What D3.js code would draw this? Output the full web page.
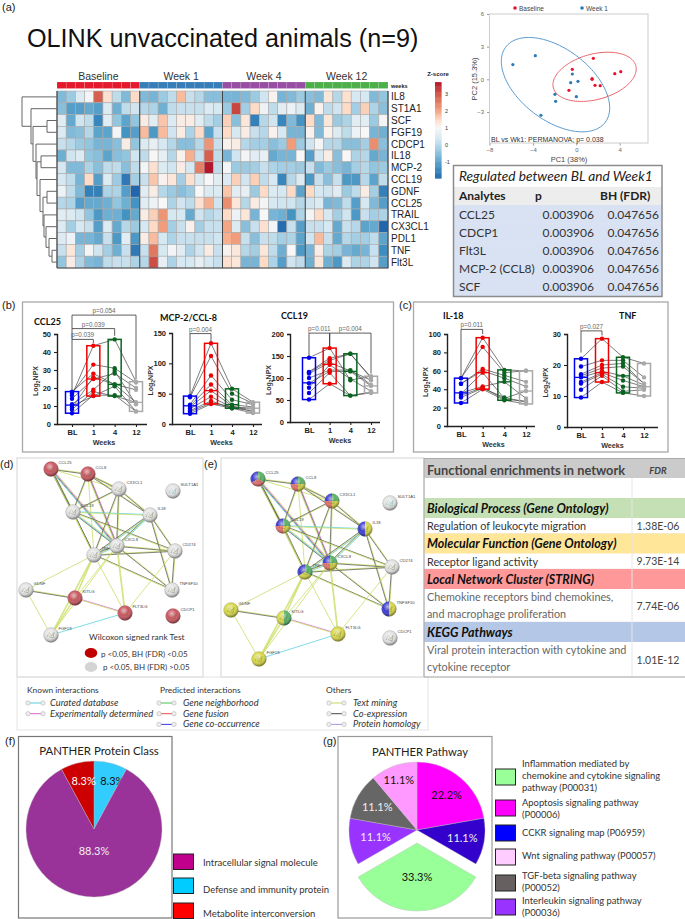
<!DOCTYPE html>
<html>
<head>
<meta charset="utf-8">
<script src="https://cdn.jsdelivr.net/npm/d3@7/dist/d3.min.js"></script>
<style>
  body { margin: 0; background: #fff; }
  text { font-family: "Liberation Sans", Arial, sans-serif; }
  .cal { font-family: Lato, "Open Sans", sans-serif; }
</style>
</head>
<body>
<div id="chart"></div>
<script>
// ---- (a) heatmap values, z-score per analyte and animal
const analytes = ["IL8", "ST1A1", "SCF", "FGF19", "CDCP1", "IL18", "MCP-2", "CCL19", "GDNF", "CCL25", "TRAIL", "CX3CL1", "PDL1", "TNF", "Flt3L"];
const heatGroups = ["Baseline", "Week 1", "Week 4", "Week 12"];
const heatValues = [
  [-.6,-.3,.5,.9,2.9,1.4,.1,-.6,1.5, -.6,-.7,-.3,.1,1.8,.2,0,-.5,-.5, -.7,-.7,-.6,-.3,.3,1.1,-.7,-.6,-.3, -.5,-.6,1.3,0,1.4,.4,.4,-.6,-.4],
  [-.5,-1.1,-1.1,-.9,-1.1,.5,-.8,.1,.3, 0,-.1,-.8,.1,.2,.2,.2,.5,.4, -.3,3.2,-.2,1.5,.8,.1,.6,.8,.5, -.8,1.1,.1,.3,1.5,-.2,1.6,-.1,-.5],
  [.6,-.9,.3,.1,-1.5,.6,-.4,-1,-.4, 1.2,.6,1.7,.5,1.2,1.2,.6,.1,-.2, 1.6,-.5,1.3,-1.6,0,.3,-1.5,-.6,-1.3, 1.5,-.6,1.3,-.3,-.1,.6,.6,-.3,.9],
  [.5,-.6,-.5,0,-1,-1,.9,-1.3,-1.1, 1.8,-1.2,1.8,.3,1.2,-.1,1.5,-1,.2, 1.5,.4,1.2,.2,0,1.1,.4,-.7,-.7, 1.1,-.6,1.1,.5,.1,.8,1,-.7,-.8],
  [.2,0,-.3,-.4,-.7,-.7,-.5,1.2,-.4, .5,.7,.4,0,-.5,-.5,0,2.2,.2, 1.1,1.2,0,-.2,-.2,-.5,-.3,2.1,-.3, .3,.9,0,0,-.5,-.5,-.2,2.3,-.5],
  [-.8,.3,.5,-.4,-.5,-1,-.5,-.4,.3, .1,1,.7,0,1.1,1.9,.2,2.9,.1, -.7,.3,.9,.6,.7,-.9,-.7,-.7,1, -1.1,.4,1.2,-.5,1,-.1,0,-.9,-.7],
  [.4,-.6,-.6,-.1,-.5,.1,.1,-.5,.1, .9,1.4,.5,.3,1.2,.4,2.5,3.7,.1, .9,-.3,-.3,-.2,.2,-.1,-.2,-.2,-.3, .2,-.6,-.3,-.5,-.7,-.2,0,-.4,-.3],
  [.4,.1,-.7,1.5,-1.1,.5,-.3,-1.7,-.2, .2,1.7,1.1,1.3,-.2,1.4,.5,1,.6, .5,1.6,.3,1.6,.1,.4,-1.5,0,.5, -1.2,.2,-.5,.2,-1.2,-1.2,0,-1,.1],
  [.8,.1,-.6,-1.6,-1.6,-.1,-.1,-1.1,-2, .6,1.2,0,-.3,-.5,-.3,1,.5,.5, 1.7,.6,.7,-.3,1.5,.5,.4,1.5,-1, 1.5,.4,.3,.6,-.3,.1,1.2,-.2,-1.6],
  [0,-.1,-1.1,-.9,-.9,-.8,-.4,-.8,-1.3, .6,.8,1,-.1,.3,.1,1.4,1.9,.3, 2.3,1.3,0,1.2,.9,.4,.3,.3,0, .3,.5,-.7,-.6,.1,-1.1,.4,-.6,-1.1],
  [.6,.5,.3,-.4,-1.2,-.8,-.8,-1.3,-.9, 1.2,1.6,2.2,.4,.4,-.9,.3,0,.2, 1.5,.8,1.3,-.7,1,-.7,-.8,-1.3,-.1, .9,1.5,.4,-.2,.3,-1.2,.2,-.2,-.1],
  [.5,-.2,.4,.2,-1.1,.5,-.9,0,-.3, .4,1.5,2.1,-.2,.2,1.1,-.2,.2,.2, 2,.5,-.5,.2,1.4,.9,-1.9,.2,-1.1, .2,.2,.4,-.9,.2,0,-1,-.9,-2],
  [.5,.8,-.7,-.7,-.9,.2,-1.2,.6,-1.2, 1.2,1.8,.4,-.1,.2,.2,.2,.2,.3, 1.9,2.1,.2,-.5,.2,.1,-.2,-.1,-1, .3,1.8,.2,-.9,0,-.2,-.2,.1,-1],
  [.2,1.3,-.2,.9,.3,-.2,-.8,.2,-1.7, .2,2.6,.4,.9,.6,-.1,.3,1.2,.2, 1.1,1.3,0,-.2,1.3,.1,-.8,1,-1.2, -.7,1.2,-.1,-.2,-.7,-.9,-.7,.2,-1.4],
  [-.4,1.2,-.1,-.6,-.7,.1,.2,.2,-.1, 0,3.1,.7,-.1,.4,.4,.7,.4,.2, 1.4,1.3,-.7,-.7,1.5,-.1,-1.1,.3,.1, -.8,1.3,-.8,-1.2,.5,-.1,-.1,.3,-1.1]
];
// nested [left, right, merge height], numbers are row indexes
const dendroTree = [0,[1,[[2,3,10],[4,[[5,6,16],[7,[[8,9,10],[10,[11,[12,[13,14,5],8],11],13],14],17],20],21],24],26],35];

// ---- (a) PCA
const pcaBaseline = [[1.57,1.93],[-.37,.92],[3.54,.52],[4.09,.7],[1.45,.06],[1.45,0],[1.72,-.55],[2.2,-.58],[-.68,-1.01]];
const pcaWeek1 = [[-3.78,2.17],[-5.85,1.35],[-.37,.49],[-.52,-.31],[.15,-.18],[-1.97,-1.38],[-1.91,-2.02],[0,-1.59],[-3.26,-3.3]];

// ---- (a) regulated table
const regHeader = ["Analytes", "p", "BH (FDR)"];
const regRows = [
  ["CCL25", "0.003906", "0.047656"],
  ["CDCP1", "0.003906", "0.047656"],
  ["Flt3L", "0.003906", "0.047656"],
  ["MCP-2 (CCL8)", "0.003906", "0.047656"],
  ["SCF", "0.003906", "0.047656"]
];

// ---- (b, c) paired values, one array per week, same animal order
const weeks = ["BL", "1", "4", "12"];
const ccl25Vals = [[6,8,9,10,11,14,16,17,18],[16,18,26,15.5,19,25,43.5,33,28],[16,15.5,22,21,29.5,28,47,31,22],[7,12,12,7,11,20,23.5,23,19]];
const mcp2Vals = [[17,20,22,25,28,30,32,44,46],[33,35,38,45,55,65,80,112,133],[26,28,26,27,30,32,40,50,58],[18,26,22,25,20,28,32,34,36]];
const ccl19Vals = [[51,66,78,88,100,110,113,114,146],[87,112,130,115,118,135,140,145,168],[60,60,98,115,118,116,155,155,95],[66,68,70,82,85,95,100,102,104]];
const il18Vals = [[25,31,33,35,36,46,46,52,52],[40,41,42,58,43,60,62,86,96],[28,31,29,30,48,52,55,58,61],[24,26,27,38,30,43,48,60,60]];
const tnfVals = [[9.5,12,14,14.5,16,16.5,17,19.5,22],[14.5,16.5,17,17.5,18,19,20,21.5,28.5],[11,11.5,13,15,16.5,19.5,20.5,21.5,22.5],[10,12,12.5,13,13.5,14,14,16,20.5]];
const ccl25Med = [10.5,25,22,12];
const mcp2Med = [30,55,32,26];
const ccl19Med = [89,131,115,82];
const il18Med = [36,58,48,38];
const tnfMed = [16,17.5,16.5,13];

// ---- (d, e) network
const netNodes = ["CCL25","CCL8","CX3CL1","SULT1A1","CCL19","IL18","CXCL8","TNF","CD274","TNFSF10","GDNF","KITLG","FLT3LG","CDCP1","FGF19"];
const netEdges = [
  ["CCL25","CCL8","yd"],["CCL25","CCL19","ydd"],["CCL25","TNF","dy"],["CCL25","CXCL8","ymdc"],["CCL25","CX3CL1","y"],
  ["CCL8","CX3CL1","yd"],["CCL8","CCL19","yd"],["CCL8","CXCL8","mdy"],["CCL8","TNF","y"],["CCL8","IL18","yd"],
  ["CX3CL1","CCL19","yd"],["CX3CL1","IL18","yd"],["CX3CL1","TNF","yd"],["CX3CL1","CXCL8","yd"],
  ["CCL19","IL18","cy"],["CCL19","CXCL8","ycd"],["CCL19","TNF","dy"],["CCL19","CD274","dy"],
  ["IL18","CXCL8","cyd"],["IL18","TNF","cyd"],["IL18","CD274","yd"],["IL18","TNFSF10","yd"],
  ["CXCL8","TNF","cyd"],["CXCL8","CD274","yd"],["CXCL8","TNFSF10","yd"],["TNF","CD274","yd"],["TNF","TNFSF10","dy"],
  ["TNF","GDNF","y"],["TNF","KITLG","yy"],["TNF","FGF19","yy"],["TNF","FLT3LG","y"],
  ["CXCL8","FLT3LG","yy"],["CXCL8","KITLG","y"],["CXCL8","FGF19","y"],["CD274","FLT3LG","y"],["CD274","TNFSF10","yd"],
  ["GDNF","KITLG","yd"],["GDNF","FGF19","y"],["KITLG","FLT3LG","my"],["KITLG","FGF19","yy"],["FLT3LG","FGF19","c"]
];
const redNodes = ["CCL25","CCL8","KITLG","FLT3LG","CDCP1"];
const nodeSectors = {
  CCL25:"bgr", CCL8:"bgyr", CX3CL1:"bgyr", CCL19:"bgyr", CXCL8:"bgyr", TNF:"bgy", IL18:"by", TNFSF10:"by",
  GDNF:"y", FGF19:"y", FLT3LG:"y", KITLG:"yg", CD274:"n", SULT1A1:"n", CDCP1:"n"
};
// STRING layout units, there is no value axis behind these
const layoutD = [[34,11],[71,16],[102,31],[156,33],[56,54],[133,57],[100,88],[77,97],[158,93],[155,132],[9,132],[58,140],[108,155],[156,158],[34,177]];
const layoutE = [[37,21],[77,26],[111,43],[169,45],[62,68],[144,71],[109,105],[84,114],[171,109],[168,151],[10,152],[63,160],[117,176],[169,180],[38,201]];

// ---- (e) enrichment table
const enrichTitles = ["Biological Process (Gene Ontology)", "Molecular Function (Gene Ontology)", "Local Network Cluster (STRING)", "KEGG Pathways"];
const enrichTerms = [["Regulation of leukocyte migration"], ["Receptor ligand activity"], ["Chemokine receptors bind chemokines,", "and macrophage proliferation"], ["Viral protein interaction with cytokine and", "cytokine receptor"]];
const enrichFdr = ["1.38E-06", "9.73E-14", "7.74E-06", "1.01E-12"];

// ---- (f, g) pies
const proteinLabels = ["Defense and immunity protein", "Intracellular signal molecule", "Metabolite interconversion"];
const proteinVals = [8.3, 88.3, 8.3];
const pathwayVals = [22.2, 11.1, 33.3, 11.1, 11.1, 11.1];

const width = 685;
const height = 919;
const svg = d3.select("#chart").append("svg").attr("width", width).attr("height", height).style("display", "block");
const defs = svg.append("defs");

const label = (parent, x, y, str, size, opts = {}) => parent.append("text")
  .attr("x", x).attr("y", y).text(str)
  .attr("class", opts.cal ? "cal" : null)
  .attr("font-size", size)
  .attr("font-weight", opts.weight || null)
  .attr("font-style", opts.italic ? "italic" : null)
  .attr("text-anchor", opts.anchor || "start")
  .attr("fill", opts.fill || "#222");

const frame = (x, y, w, h, stroke, sw) => svg.append("rect")
  .attr("x", x).attr("y", y).attr("width", w).attr("height", h)
  .attr("fill", "none").attr("stroke", stroke).attr("stroke-width", sw);

[["(a)",2,11],["(b)",2,309],["(c)",399,309],["(d)",0,468],["(e)",204,468],["(f)",5,745],["(g)",323,745]]
  .forEach((d) => label(svg, d[1], d[2], d[0], 11));

/*----- Heatmap -----*/
label(svg, 27, 47, "OLINK unvaccinated animals (n=9)", 25.2, { fill: "#111" });

const heatX = d3.scaleBand().domain(d3.range(36)).range([57, 388]);
const heatY = d3.scaleBand().domain(d3.range(analytes.length)).range([91, 268]);
const zColor = d3.scaleLinear()
  .domain([-2, -1.3, -.4, .3, 1, 1.5, 2, 2.9, 3.7])
  .range(["#2166ac", "#4393c3", "#92c5de", "#d1e5f0", "#f7f7f7", "#fddbc7", "#f4a582", "#d6604d", "#b2182b"]);
const groupColors = ["#e41a2c", "#377eb8", "#984ea3", "#4daf4a"];

const heat = svg.append("g");
heat.selectAll("g").data(heatValues).enter().append("g")
  .selectAll("rect").data((row, r) => row.map((v, c) => ({ v, r, c }))).enter().append("rect")
    .attr("x", (d) => heatX(d.c))
    .attr("y", (d) => heatY(d.r))
    .attr("width", heatX.bandwidth())
    .attr("height", heatY.bandwidth())
    .attr("fill", (d) => zColor(d.v))
    .attr("stroke", "#aaa")
    .attr("stroke-width", .6);

heat.append("g").selectAll("rect").data(d3.range(36)).enter().append("rect")
  .attr("x", (c) => heatX(c))
  .attr("y", 82)
  .attr("width", heatX.bandwidth())
  .attr("height", 6.5)
  .attr("fill", (c) => groupColors[Math.floor(c / 9)])
  .attr("stroke", "#fff")
  .attr("stroke-opacity", .25)
  .attr("stroke-width", .5);

heatGroups.forEach((g, i) => {
  label(svg, heatX(i * 9) + heatX.bandwidth() * 4.5, 80, g, 10.5, { anchor: "middle", fill: "#333" });
  heat.append("line")
    .attr("x1", heatX(i * 9)).attr("x2", heatX(i * 9))
    .attr("y1", 91).attr("y2", 268)
    .attr("stroke", "#444").attr("stroke-width", i ? 1 : 1.2);
});
heat.append("path")
  .attr("d", `M57,268H388V91`)
  .attr("fill", "none").attr("stroke", "#444").attr("stroke-width", 1.2);
label(svg, 391, 87.5, "weeks", 5.5, { weight: "bold" });
analytes.forEach((a, i) => label(svg, 391, heatY(i) + heatY.bandwidth() / 2 + 3.5, a, 10));

// dendrogram
const dendroX = d3.scaleLinear().domain([0, 35]).range([57, 22]);
const dendroG = svg.append("g").attr("fill", "none").attr("stroke", "#666").attr("stroke-width", 1);
const drawDendro = (node) => {
  if (typeof node === "number") return { y: heatY(node) + heatY.bandwidth() / 2, h: 0 };
  const a = drawDendro(node[0]);
  const b = drawDendro(node[1]);
  const x = dendroX(node[2]);
  dendroG.append("path").attr("d", `M${dendroX(a.h)},${a.y}H${x}V${b.y}H${dendroX(b.h)}`);
  return { y: (a.y + b.y) / 2, h: node[2] };
};
drawDendro(dendroTree);

// colour bar
const barY = d3.scaleLinear().domain([-1, 3]).range([162, 94]);
const barSteps = d3.range(-1.95, 3.7, .05);
svg.append("g").selectAll("rect").data(barSteps).enter().append("rect")
  .attr("x", 435)
  .attr("y", (d) => barY(d + .05))
  .attr("width", 6.5)
  .attr("height", barY(0) - barY(.05) + .5)
  .attr("fill", (d) => zColor(d));
label(svg, 438, 76, "Z-score", 6, { weight: "bold", anchor: "middle" });
[-1, 0, 1, 2, 3].forEach((t) => label(svg, 445, barY(t) + 2, t, 5.5, { fill: "#333" }));

/*----- PCA -----*/
const pcaX = d3.scaleLinear().domain([-8, 6.6]).range([489.5, 648]);
const pcaY = d3.scaleLinear().domain([-5.85, 6]).range([143, 14]);
const pca = svg.append("g");
frame(489.5, 14, 158.5, 129, "#ccc", 1);
pca.append("g").attr("transform", "translate(0,143)")
  .call(d3.axisBottom(pcaX).tickValues([-8, -4, 0, 4]).tickSize(2.5))
  .call((g) => g.select(".domain").remove())
  .call((g) => g.selectAll("text").attr("font-size", 6).attr("fill", "#666").attr("dy", "0.5em"))
  .call((g) => g.selectAll("line").attr("stroke", "#999"));
pca.append("g").attr("transform", "translate(489.5,0)")
  .call(d3.axisLeft(pcaY).tickValues([-3, 0, 3, 6]).tickSize(2.5))
  .call((g) => g.select(".domain").remove())
  .call((g) => g.selectAll("text").attr("font-size", 6).attr("fill", "#666"))
  .call((g) => g.selectAll("line").attr("stroke", "#999"));

const ellipseLine = d3.line().curve(d3.curveLinearClosed);
const ellipsePath = (cx, cy, a, b, deg) => {
  const t = deg * Math.PI / 180;
  return ellipseLine(d3.range(0, 2 * Math.PI, .05).map((s) => [
    pcaX(cx + a * Math.cos(s) * Math.cos(t) - b * Math.sin(s) * Math.sin(t)),
    pcaY(cy + a * Math.cos(s) * Math.sin(t) + b * Math.sin(s) * Math.cos(t))
  ]));
};
pca.append("path").attr("d", ellipsePath(1.68, .23, 3.93, 2.09, 15)).attr("fill", "none").attr("stroke", "#e8666c").attr("stroke-width", 1);
pca.append("path").attr("d", ellipsePath(-1.92, -.49, 5.74, 3.28, -37)).attr("fill", "none").attr("stroke", "#5b9bd0").attr("stroke-width", 1);
[[pcaBaseline, "#e8112d"], [pcaWeek1, "#2a7ab8"]].forEach(([pts, color]) => {
  pca.append("g").selectAll("circle").data(pts).enter().append("circle")
    .attr("cx", (d) => pcaX(d[0]))
    .attr("cy", (d) => pcaY(d[1]))
    .attr("r", 1.6)
    .attr("fill", color);
});
pca.append("circle").attr("cx", 515).attr("cy", 8).attr("r", 1.8).attr("fill", "#e8112d");
label(svg, 519, 10.5, "Baseline", 6.5, { fill: "#444" });
pca.append("circle").attr("cx", 582).attr("cy", 8).attr("r", 1.8).attr("fill", "#2a7ab8");
label(svg, 586, 10.5, "Week 1", 6.5, { fill: "#444" });
label(svg, 569, 162, "PC1 (38%)", 7.5, { anchor: "middle", fill: "#444" });
label(svg, 0, 0, "PC2 (15.3%)", 7.5, { anchor: "middle", fill: "#444" }).attr("transform", "translate(477,79) rotate(-90)");
label(svg, 491, 141.5, "BL vs  Wk1: PERMANOVA; p= 0.038", 7, { fill: "#333" });

/*----- Regulated table -----*/
const regY = d3.scaleBand().domain(d3.range(regRows.length)).range([205, 296]);
svg.append("rect").attr("x", 454).attr("y", 187).attr("width", 208).attr("height", 18).attr("fill", "#ededed");
svg.append("g").selectAll("rect").data(regRows).enter().append("rect")
  .attr("x", 454)
  .attr("y", (d, i) => regY(i))
  .attr("width", 208)
  .attr("height", regY.bandwidth() + .5)
  .attr("fill", "#d9e2f3");
frame(453.5, 165.5, 208.5, 131, "#8c8c8c", 1.5);
label(svg, 459, 180.5, "Regulated between BL and Week1", 13.7, { cal: true, italic: true, fill: "#222" });
label(svg, 459, 200, regHeader[0], 12, { cal: true, weight: "bold" });
label(svg, 535, 200, regHeader[1], 12, { cal: true, weight: "bold" });
label(svg, 600, 200, regHeader[2], 12, { cal: true, weight: "bold" });
regRows.forEach((row, i) => {
  const y = regY(i) + 13.5;
  label(svg, 459, y, row[0], 12, { cal: true, fill: "#333" });
  label(svg, 594, y, row[1], 12, { cal: true, anchor: "end", fill: "#333" });
  label(svg, 659, y, row[2], 12, { cal: true, anchor: "end", fill: "#333" });
});

/*----- Paired box charts -----*/
const boxColors = ["#0000f0", "#f00000", "#0a6420", "#a8a8a8"];

const styleAxis = (g) => {
  g.select(".domain").attr("stroke", "#222").attr("stroke-width", 1.4);
  g.selectAll("line").attr("stroke", "#222").attr("stroke-width", 1.1);
  g.selectAll("text").attr("font-size", 7.5).attr("font-weight", "bold").attr("fill", "#222");
};

const drawPaired = (cfg) => {
  const y = d3.scaleLinear().domain([0, cfg.max]).range([cfg.y0, cfg.y1]);
  const x = d3.scalePoint().domain(weeks).range(cfg.xr);
  const g = svg.append("g");

  // animal lines first, boxes and dots on top
  const line = d3.line().x((d) => x(d[0])).y((d) => y(d[1]));
  d3.range(cfg.vals[0].length).forEach((a) => {
    g.append("path")
      .attr("d", line(weeks.map((w, i) => [w, cfg.vals[i][a]])))
      .attr("fill", "none").attr("stroke", "#444").attr("stroke-width", .7);
  });
  weeks.forEach((w, i) => {
    const [lo, hi] = d3.extent(cfg.vals[i]);
    g.append("rect")
      .attr("x", x(w) - 6.5).attr("width", 13)
      .attr("y", y(hi)).attr("height", y(lo) - y(hi))
      .attr("fill", "none").attr("stroke", boxColors[i]).attr("stroke-width", 1.5);
    g.append("line")
      .attr("x1", x(w) - 6.5).attr("x2", x(w) + 6.5)
      .attr("y1", y(cfg.med[i])).attr("y2", y(cfg.med[i]))
      .attr("stroke", boxColors[i]).attr("stroke-width", 1.3);
    g.append("g").selectAll("circle").data(cfg.vals[i]).enter().append("circle")
      .attr("cx", x(w)).attr("cy", (d) => y(d)).attr("r", 2.2).attr("fill", boxColors[i]);
  });

  g.append("g").attr("transform", `translate(${cfg.axisX},0)`)
    .call(d3.axisLeft(y).tickValues(cfg.ticks).tickSize(3))
    .call(styleAxis);
  g.append("g").attr("transform", `translate(0,${cfg.y0})`)
    .call(d3.axisBottom(x).tickSize(3).tickSizeOuter(0))
    .call(styleAxis)
    .call((a) => a.select(".domain").attr("d", `M${cfg.axisX},0.5H${cfg.axisEnd}`));

  label(g, cfg.titleX, cfg.titleY, cfg.title, 9, { cal: true, weight: "bold", fill: "#111" });
  label(g, d3.mean(cfg.xr), cfg.y0 + 21, "Weeks", 7.2, { weight: "bold", anchor: "middle", fill: "#333" });
  const yl = label(g, 0, 0, "Log", 7, { weight: "bold", anchor: "middle", fill: "#333" })
    .attr("transform", `translate(${cfg.axisX - 19},${(cfg.y0 + cfg.y1) / 2 + 2}) rotate(-90)`);
  yl.append("tspan").text("2").attr("font-size", 5).attr("dy", 1.5);
  yl.append("tspan").text("NPX").attr("dy", -1.5);

  // significance brackets, level is in value units
  cfg.brackets.forEach((b) => {
    const ly = y(b.level);
    const xa = x(weeks[b.from]);
    const xb = x(weeks[b.to]);
    g.append("path")
      .attr("d", `M${xa},${y(b.fromVal)}V${ly}H${xb}V${y(b.toVal)}`)
      .attr("fill", "none").attr("stroke", "#333").attr("stroke-width", .8);
    label(g, (xa + xb) / 2, ly - 2, b.p, 6.3, { anchor: "middle", fill: "#666" });
  });
};

drawPaired({
  title: "CCL25", titleX: 34, titleY: 325, vals: ccl25Vals, med: ccl25Med, max: 50, ticks: [0, 10, 20, 30, 40, 50],
  y0: 424, y1: 334, xr: [72, 136], axisX: 57, axisEnd: 147,
  brackets: [
    { from: 0, to: 1, level: 47, fromVal: 19, toVal: 45, p: "p=0.039" },
    { from: 0, to: 2, level: 53, fromVal: 47, toVal: 49, p: "p=0.039" },
    { from: 0, to: 3, level: 60.5, fromVal: 53, toVal: 25, p: "p=0.054" }
  ]
});
drawPaired({
  title: "MCP-2/CCL-8", titleX: 160, titleY: 321, vals: mcp2Vals, med: mcp2Med, max: 150, ticks: [0, 50, 100, 150],
  y0: 424, y1: 333, xr: [190, 253], axisX: 172, axisEnd: 262,
  brackets: [{ from: 0, to: 1, level: 149, fromVal: 48, toVal: 136, p: "p=0.004" }]
});
drawPaired({
  title: "CCL19", titleX: 281, titleY: 319, vals: ccl19Vals, med: ccl19Med, max: 200, ticks: [0, 50, 100, 150, 200],
  y0: 422, y1: 334, xr: [309, 371], axisX: 290, axisEnd: 380,
  brackets: [
    { from: 0, to: 1, level: 202, fromVal: 150, toVal: 172, p: "p=0.011" },
    { from: 1, to: 3, level: 202, fromVal: 172, toVal: 110, p: "p=0.004" }
  ]
});
drawPaired({
  title: "IL-18", titleX: 443, titleY: 319, vals: il18Vals, med: il18Med, max: 100, ticks: [0, 20, 40, 60, 80, 100],
  y0: 426, y1: 334, xr: [461, 526], axisX: 447, axisEnd: 535,
  brackets: [{ from: 0, to: 1, level: 105, fromVal: 54, toVal: 100, p: "p=0.011" }]
});
drawPaired({
  title: "TNF", titleX: 619, titleY: 319, vals: tnfVals, med: tnfMed, max: 30, ticks: [0, 10, 20, 30],
  y0: 427, y1: 334, xr: [581, 644], axisX: 567, axisEnd: 658,
  brackets: [{ from: 0, to: 1, level: 31, fromVal: 24, toVal: 29.5, p: "p=0.027" }]
});
frame(22.5, 302, 371, 150, "#a8a8a8", 1.3);
frame(413.5, 302, 254.5, 150, "#a8a8a8", 1.3);

/*----- Networks -----*/
const edgeColors = { y: "#c5dc5c", d: "#55594e", c: "#55cfe0", m: "#d864d0" };
const sectorColors = { b: "#3c3cd2", g: "#58b468", r: "#e8706c", y: "#d8d848", n: "#e2e2e2", h: "#cc5560" };
const pieStart = { 1: 0, 2: -Math.PI, 3: -2 * Math.PI / 3, 4: -Math.PI / 2 };

const gloss = defs.append("radialGradient").attr("id", "gloss").attr("cx", "42%").attr("cy", "34%").attr("r", "62%");
gloss.append("stop").attr("offset", "0%").attr("stop-color", "#fff").attr("stop-opacity", .6);
gloss.append("stop").attr("offset", "50%").attr("stop-color", "#fff").attr("stop-opacity", 0);
gloss.append("stop").attr("offset", "100%").attr("stop-color", "#000").attr("stop-opacity", .38);

const nodeArc = d3.arc().innerRadius(0).outerRadius(7.4);

const drawNetwork = (ox, oy, layout, fillFor) => {
  const nx = d3.scaleLinear().domain([0, 1]).range([ox, ox + 1]);
  const ny = d3.scaleLinear().domain([0, 1]).range([oy, oy + 1]);
  const at = (name) => {
    const p = layout[netNodes.indexOf(name)];
    return [nx(p[0]), ny(p[1])];
  };
  const g = svg.append("g");
  netEdges.forEach(([a, b, kinds]) => {
    const [x1, y1] = at(a);
    const [x2, y2] = at(b);
    const len = Math.hypot(x2 - x1, y2 - y1);
    kinds.split("").forEach((k, i) => {
      const off = (i - (kinds.length - 1) / 2) * .75;
      const dx = -(y2 - y1) / len * off;
      const dy = (x2 - x1) / len * off;
      g.append("line")
        .attr("x1", x1 + dx).attr("y1", y1 + dy)
        .attr("x2", x2 + dx).attr("y2", y2 + dy)
        .attr("stroke", edgeColors[k]).attr("stroke-width", .75);
    });
  });
  netNodes.forEach((name) => {
    const [x, y] = at(name);
    const n = g.append("g").attr("transform", `translate(${x},${y})`);
    const sectors = fillFor(name).split("");
    const start = pieStart[sectors.length];
    const nodePie = d3.pie().value(1).sort(null).startAngle(start).endAngle(start + 2 * Math.PI);
    n.selectAll("path").data(nodePie(sectors)).enter().append("path")
      .attr("d", nodeArc)
      .attr("fill", (d) => sectorColors[d.data]);
    // little protein scribble inside the bubble
    n.append("path")
      .attr("d", "M-4,2L-1.5,-3L.5,1L3,-2.5L2,3L-2,1.5")
      .attr("fill", "none")
      .attr("stroke", name === "SULT1A1" ? "#4aa8a0" : "#6b7040")
      .attr("stroke-opacity", .65)
      .attr("stroke-width", .6);
    n.append("circle").attr("r", 7.4).attr("fill", "url(#gloss)").attr("stroke", "#888").attr("stroke-width", .3);
    label(n, 7.5, -5.5, name, 4.2, { fill: "#444" });
  });
};
drawNetwork(17, 458, layoutD, (name) => redNodes.includes(name) ? "h" : "n");
drawNetwork(221, 458, layoutE, (name) => nodeSectors[name]);
frame(17, 458, 186, 219, "#d4d4d4", 1);
frame(221, 458, 203, 219, "#d4d4d4", 1);
frame(17, 677, 411, 53, "#e4e4e4", 1);

label(svg, 89, 640, "Wilcoxon signed rank Test", 8.4, { cal: true, fill: "#333" });
svg.append("ellipse").attr("cx", 91).attr("cy", 653).attr("rx", 6.3).attr("ry", 5).attr("fill", "#c00000");
label(svg, 101, 656.5, "p <0.05, BH (FDR) <0.05", 8, { cal: true, fill: "#333" });
svg.append("ellipse").attr("cx", 91).attr("cy", 667).attr("rx", 6.3).attr("ry", 5).attr("fill", "#d4d4d4");
label(svg, 103, 670, "p <0.05, BH (FDR) >0.05", 8, { cal: true, fill: "#333" });

// legend of the edge kinds
const edgeLegend = [
  { head: "Known interactions", x: 27, y: 693, ix: 28, tx: 50, rows: [["Curated database", "#55cfe0"], ["Experimentally determined", "#d864d0"]] },
  { head: "Predicted interactions", x: 160, y: 693, ix: 159, tx: 183, rows: [["Gene neighborhood", "#44c44c"], ["Gene fusion", "#f04848"], ["Gene co-occurrence", "#3838e0"]] },
  { head: "Others", x: 326, y: 693, ix: 329, tx: 353, rows: [["Text mining", "#c5dc5c"], ["Co-expression", "#444"], ["Protein homology", "#9a9af0"]] }
];
edgeLegend.forEach((block) => {
  label(svg, block.x, block.y, block.head, 8.4, { cal: true, fill: "#333" });
  block.rows.forEach((r, i) => {
    const y = 703 + i * 10.7;
    svg.append("line").attr("x1", block.ix).attr("x2", block.ix + 15).attr("y1", y).attr("y2", y).attr("stroke", r[1]).attr("stroke-width", 1);
    [0, 15].forEach((dx) => svg.append("circle").attr("cx", block.ix + dx).attr("cy", y).attr("r", 2.2)
      .attr("fill", "#eee").attr("stroke", "#aaa").attr("stroke-width", .5));
    label(svg, block.tx, y + 2.8, r[0], 9.3, { cal: true, italic: true, fill: "#333" });
  });
});

/*----- Enrichment table -----*/
const etab = svg.append("g");
const etabRect = (y, h, fill) => etab.append("rect").attr("x", 424).attr("y", y).attr("width", 261).attr("height", h).attr("fill", fill);
etabRect(459, 19, "#cbcbcb");
label(svg, 427, 475, "Functional enrichments in network", 12.8, { cal: true, weight: "bold", fill: "#444" });
label(svg, 658, 474, "FDR", 9.5, { cal: true, weight: "bold", italic: true, anchor: "middle", fill: "#444" });
const enrichBands = [[498, 20, "#c5e0b4"], [533.5, 20, "#ffe699"], [569, 20, "#ff9999"], [622, 20, "#b4c7e7"]];
const enrichRowH = [15.5, 15.5, 33, 35];
enrichTitles.forEach((t, i) => {
  const [y, h, fill] = enrichBands[i];
  etabRect(y, h, fill);
  label(svg, 427, y + 14.5, t, 12.5, { cal: true, weight: "bold", italic: true, fill: "#111" });
  const lines = enrichTerms[i];
  const top = y + h;
  lines.forEach((l, j) => label(svg, 427, top + 12 + j * 17, l, 10.8, { cal: true, fill: lines.length > 1 ? "#666" : "#333" }));
  label(svg, 658, top + enrichRowH[i] / 2 + 4, enrichFdr[i], 10.5, { cal: true, anchor: "middle", fill: "#444" });
  etab.append("line").attr("x1", 424).attr("x2", 685).attr("y1", top + enrichRowH[i]).attr("y2", top + enrichRowH[i]).attr("stroke", "#ddd").attr("stroke-width", .6);
});
etab.append("line").attr("x1", 632).attr("x2", 632).attr("y1", 478).attr("y2", 677).attr("stroke", "#e6e6e6").attr("stroke-width", 1);
etab.append("line").attr("x1", 424).attr("x2", 685).attr("y1", 677).attr("y2", 677).attr("stroke", "#aaa").attr("stroke-width", 1);
etab.append("line").attr("x1", 424).attr("x2", 685).attr("y1", 458.5).attr("y2", 458.5).attr("stroke", "#aaa").attr("stroke-width", 1);
etab.append("line").attr("x1", 424).attr("x2", 424).attr("y1", 458).attr("y2", 677).attr("stroke", "#aaa").attr("stroke-width", 1);

/*----- Pies -----*/
const drawPie = (cx, cy, r, vals, colors, txtColors, labelR, shift, dx, labels) => {
  const arc = d3.arc().innerRadius(0).outerRadius(r);
  const arcs = d3.pie().sort(null)(vals);
  const g = svg.append("g").attr("transform", `translate(${cx},${cy})`);
  arcs.forEach((a, i) => {
    const s = g.append("g").attr("transform", `translate(0,${shift[i]})`);
    s.append("path").attr("d", arc(a)).attr("fill", colors[i]).attr("stroke", "#bbb").attr("stroke-width", .4);
    const mid = (a.startAngle + a.endAngle) / 2;
    label(s, Math.sin(mid) * labelR[i] + dx[i], -Math.cos(mid) * labelR[i] + 4, labels[i], 11, { cal: true, anchor: "middle", fill: txtColors[i] });
  });
};

frame(18.5, 736.5, 153.5, 181.5, "#777", 1.2);
label(svg, 99, 755, "PANTHER Protein Class", 11.4, { cal: true, anchor: "middle", fill: "#222" });
drawPie(94, 829, 68, proteinVals, ["#33ccff", "#993399", "#cc0000"], ["#111", "#f0f0f0", "#fff"], [50, 22, 50], [0, 0, 0], [6, 0, 2],
  proteinVals.map((v) => v + "%"));

const proteinLegendColors = ["#c0008c", "#00ccff", "#ff0000"];
const proteinLegendY = [854, 878, 903];
const proteinLegendText = [866, 893, 917];
[proteinLabels[1], proteinLabels[0], proteinLabels[2]].forEach((t, i) => {
  svg.append("rect").attr("x", 173.5).attr("y", proteinLegendY[i]).attr("width", 20).attr("height", 15.5)
    .attr("fill", proteinLegendColors[i]).attr("stroke", "#222").attr("stroke-width", 1);
  label(svg, 203, proteinLegendText[i], t, 9.5, { cal: true, fill: "#333" });
});

frame(338, 736.5, 154, 181.5, "#999", 1.2);
label(svg, 420, 756, "PANTHER Pathway", 11.2, { cal: true, anchor: "middle", fill: "#222" });
drawPie(417, 830, 68, pathwayVals, ["#ff00ff", "#3300cc", "#99ff99", "#9933ff", "#666666", "#ff99ff"],
  ["#111", "#f0f0f0", "#111", "#f0f0f0", "#f0f0f0", "#111"], [46, 46, 34, 42, 46, 53], [0, 0, 13, 0, 0, 0], [0, 0, 0, 0, 0, 0],
  pathwayVals.map((v) => v + "%"));

const pathwayLegend = [
  { color: "#99ff99", y: 769, h: 16, lines: ["Inflammation mediated by", "chemokine and cytokine signaling", "pathway (P00031)"], ty: 767 },
  { color: "#ff00ff", y: 800, h: 16, lines: ["Apoptosis signaling pathway", "(P00006)"], ty: 806 },
  { color: "#0000ff", y: 825, h: 16, lines: ["CCKR signaling map (P06959)"], ty: 836 },
  { color: "#ffccff", y: 849, h: 16, lines: ["Wnt signaling pathway (P00057)"], ty: 859 },
  { color: "#666060", y: 875, h: 16, lines: ["TGF-beta signaling pathway", "(P00052)"], ty: 879 },
  { color: "#9933ff", y: 899, h: 16, lines: ["Interleukin signaling pathway", "(P00036)"], ty: 904 }
];
pathwayLegend.forEach((p) => {
  svg.append("rect").attr("x", 495.5).attr("y", p.y).attr("width", 20).attr("height", p.h)
    .attr("fill", p.color).attr("stroke", "#222").attr("stroke-width", 1);
  p.lines.forEach((l, j) => label(svg, 522, p.ty + j * 12, l, 9.4, { cal: true, fill: "#333" }));
});
</script>
</body>
</html>
